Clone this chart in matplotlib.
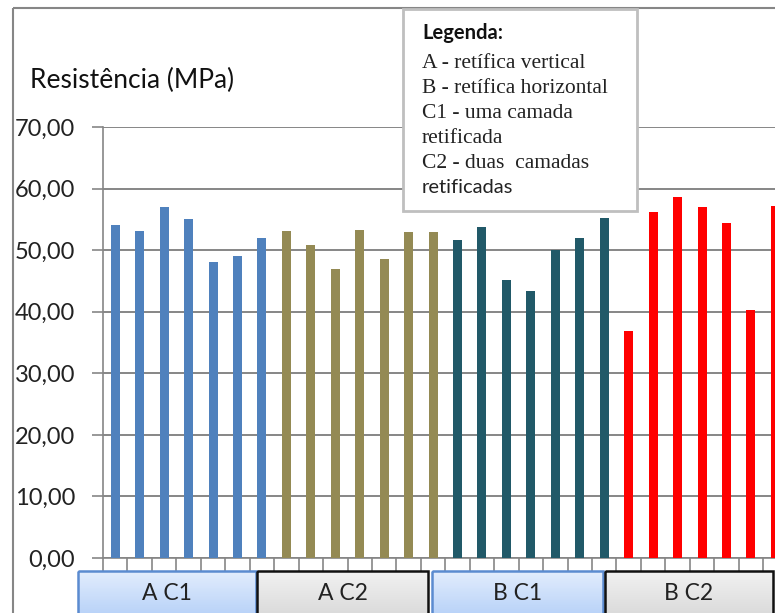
import numpy as np
import matplotlib.pyplot as plt
from matplotlib.patches import Rectangle

# Resistência por amostra, agrupadas por condição de retífica
groups = ['A C1', 'A C2', 'B C1', 'B C2']
a_c1 = [54.1, 53.1, 57.0, 55.0, 48.1, 49.1, 52.0]
a_c2 = [53.1, 50.8, 46.9, 53.3, 48.5, 52.9, 52.9]
b_c1 = [51.6, 53.7, 45.2, 43.3, 50.1, 52.0, 55.2]
b_c2 = [36.9, 56.2, 58.7, 57.0, 54.4, 40.2, 57.2]
colors = ['#4f81bd', '#948a54', '#215968', '#ff0000']
yticks = [0, 10, 20, 30, 40, 50, 60, 70]

legend_lines = ['A - retífica vertical', 'B - retífica horizontal',
                'C1 - uma camada', 'retificada', 'C2 - duas  camadas']

W, H = 775, 613
fig = plt.figure(figsize=(W / 100, H / 100), dpi=100)
fig.patch.set_facecolor('white')

# main bar axes (right side runs past the figure edge)
ax = fig.add_axes([103 / W, 55 / H, 684.6 / W, 431 / H])
series = [a_c1, a_c2, b_c1, b_c2]
pos = 0
for vals, col in zip(series, colors):
    x = np.arange(pos, pos + len(vals))
    ax.bar(x, vals, width=0.37, color=col, zorder=3)
    pos += len(vals)

ax.set_xlim(-0.5, pos - 0.5)
ax.set_ylim(0, 70)
ax.set_yticks(yticks)
ax.set_yticklabels([f'{v:.2f}'.replace('.', ',') for v in yticks],
                   fontsize=17, family='Lato', color='#222222')
ax.set_xticks(np.arange(-0.5, pos, 1.0))
ax.set_xticklabels([])
ax.tick_params(axis='y', length=8, width=1.2, color='#868686', pad=12)
ax.tick_params(axis='x', length=9, width=1.2, color='#868686')
ax.grid(axis='y', color='#868686', linewidth=1.4, zorder=0)
for s in ['top', 'right']:
    ax.spines[s].set_visible(False)
for s in ['left', 'bottom']:
    ax.spines[s].set_color('#868686')
    ax.spines[s].set_linewidth(1.2)

# overlay in pixel coordinates for the frame, buttons and legend
deco = fig.add_axes([0, 0, 1, 1], zorder=5)
deco.set_xlim(0, W)
deco.set_ylim(H, 0)
deco.axis('off')
deco.patch.set_alpha(0)

# outer chart border
deco.add_patch(Rectangle((13, 8), 800, 700, fill=False, edgecolor='#868686', lw=1.5))

deco.text(30, 88, 'Resistência (MPa)', fontsize=19, family='Lato', color='#111111',
          va='baseline')


def gradient_box(x0, x1, y0, y1, top, bottom, edge, lw):
    grad = np.linspace(0, 1, 64)[:, None]
    c_top = np.array(plt.matplotlib.colors.to_rgb(top))
    c_bot = np.array(plt.matplotlib.colors.to_rgb(bottom))
    img = c_top[None, None, :] * (1 - grad[:, :, None]) + c_bot[None, None, :] * grad[:, :, None]
    deco.imshow(img, extent=(x0, x1, y1, y0), aspect='auto', zorder=2)
    deco.add_patch(Rectangle((x0, y0), x1 - x0, y1 - y0, fill=False,
                             edgecolor=edge, lw=lw, zorder=3))


boxes = [(78, 256), (257, 428), (432, 603), (605, 773)]
styles = [('#e3edfd', '#a9c9f6', '#5b8bd0'), ('#f2f2f2', '#d2d2d2', '#111111'),
          ('#e3edfd', '#a9c9f6', '#5b8bd0'), ('#f2f2f2', '#d2d2d2', '#111111')]
for name, (x0, x1), (ct, cb, ce) in zip(groups, boxes, styles):
    gradient_box(x0, x1, 571, 630, ct, cb, ce, 1.8)
    deco.text((x0 + x1) / 2, 593, name, fontsize=16.5, family='Lato', color='#222222',
              ha='center', va='center', zorder=4)

# legend box
deco.add_patch(Rectangle((403, 9), 234, 202, facecolor='white', edgecolor='#bfbfbf',
                         lw=2, zorder=2))
deco.text(422, 39, 'Legenda:', fontsize=14.5, family='Lato', weight='bold',
          color='#111111', va='baseline', zorder=3)
for i, line in enumerate(legend_lines):
    deco.text(422, 68 + i * 25, line, fontsize=15.5, family='Liberation Serif',
              color='#222222', va='baseline', zorder=3)
deco.text(422, 193, 'retificadas', fontsize=14.5, family='Lato', color='#222222',
          va='baseline', zorder=3)

fig.savefig('out.png', dpi=100)
